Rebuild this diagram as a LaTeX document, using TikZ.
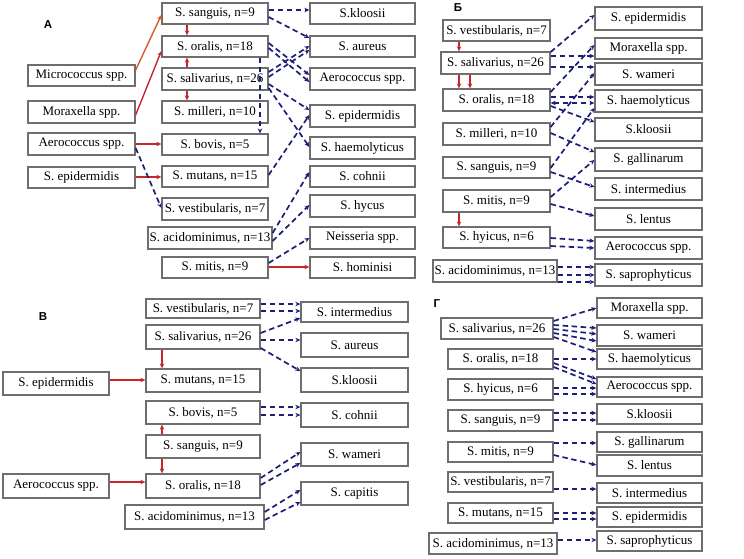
\documentclass[tikz,border=0pt]{standalone}
\usepackage{fontspec}
\setmainfont{Liberation Serif}
\newfontfamily\labfont{Liberation Sans}
\usetikzlibrary{arrows.meta}
\definecolor{boxgray}{RGB}{110,110,110}
\definecolor{navyl}{RGB}{30,30,120}
\definecolor{redl}{RGB}{196,40,45}
\definecolor{orangel}{RGB}{215,90,45}
\newcommand{\bx}[6]{\node[box, minimum width={#4-#2}, minimum height={#5-#3}] (#1) at ({(#2+#4)/2},{(#3+#5)/2}) {#6};}
\tikzset{
  box/.style={draw=boxgray, line width=1.3pt, fill=white, inner sep=0pt, font=\fontsize{13}{15}\selectfont},
  dsh/.style={draw=navyl, line width=1.7pt, dash pattern=on 5.5pt off 3.5pt, -{Stealth[length=5pt,width=4.5pt]}},
  redarr/.style={draw=redl, line width=1.4pt, -{Stealth[length=5pt,width=4.5pt]}},
  lab/.style={font=\labfont\bfseries\fontsize{11.5}{13}\selectfont, inner sep=0pt}
}
\begin{document}
\begin{tikzpicture}[x=1pt,y=-1pt]
\useasboundingbox[fill=white] (0,0) rectangle (744,558);
% ---------- Panel A ----------
\node[lab] (labA) at (48,25) {А};
\bx{aMic}{28}{65}{135}{86}{Micrococcus spp.}
\bx{aMor}{28}{101}{135}{123}{Moraxella spp.}
\bx{aAer}{28}{133}{135}{155}{Aerococcus spp.}
\bx{aEpi}{28}{167}{135}{188}{S. epidermidis}
\bx{aSan}{162}{3}{268}{24}{S. sanguis, n=9}
\bx{aOra}{162}{36}{268}{57}{S. oralis, n=18}
\bx{aSal}{162}{68}{268}{90}{S. salivarius, n=26}
\bx{aMil}{162}{101}{268}{123}{S. milleri, n=10}
\bx{aBov}{162}{134}{268}{155}{S. bovis, n=5}
\bx{aMut}{162}{166}{268}{187}{S. mutans, n=15}
\bx{aVes}{162}{198}{268}{220}{S. vestibularis, n=7}
\bx{aAci}{148}{227}{272}{249}{S. acidominimus, n=13}
\bx{aMit}{162}{257}{268}{278}{S. mitis, n=9}
\bx{aKlo}{310}{3}{415}{24}{S.kloosii}
\bx{aAur}{310}{36}{415}{57}{S. aureus}
\bx{aAerR}{310}{68}{415}{90}{Aerococcus spp.}
\bx{aEpiR}{310}{105}{415}{127}{S. epidermidis}
\bx{aHae}{310}{137}{415}{159}{S. haemolyticus}
\bx{aCoh}{310}{166}{415}{187}{S. cohnii}
\bx{aHyc}{310}{195}{415}{217}{S. hycus}
\bx{aNei}{310}{227}{415}{249}{Neisseria spp.}
\bx{aHom}{310}{257}{415}{278}{S. hominisi}
\draw[redarr, draw=orangel] (aMic.east |- 0,70) -- (aSan.west |- 0,15);
\draw[redarr] (aMor.east |- 0,115) -- (aOra.west |- 0,51);
\draw[redarr] (aAer.east |- 0,144) -- (aBov.west |- 0,144);
\draw[redarr] (aEpi.east |- 0,177) -- (aMut.west |- 0,177);
\draw[redarr] (aSan.south -| 187,0) -- (aOra.north -| 187,0);
\draw[redarr] (aSal.north -| 187,0) -- (aOra.south -| 187,0);
\draw[redarr] (aSal.south -| 187,0) -- (aMil.north -| 187,0);
\draw[redarr] (aMit.east |- 0,267) -- (aHom.west |- 0,267);
\draw[dsh] (aAer.east |- 0,148) -- (aVes.west |- 0,208);
\draw[dsh] (aOra.south -| 260,0) -- (aBov.north -| 260,0);
\draw[dsh] (aSan.east |- 0,10) -- (aKlo.west |- 0,10);
\draw[dsh] (aSan.east |- 0,17) -- (aAur.west |- 0,38);
\draw[dsh] (aOra.east |- 0,43) -- (aAerR.west |- 0,75);
\draw[dsh] (aOra.east |- 0,48) -- (aAerR.west |- 0,82);
\draw[dsh] (aSal.east |- 0,72) -- (aAur.west |- 0,46);
\draw[dsh] (aSal.east |- 0,77) -- (aAur.west |- 0,50);
\draw[dsh] (aSal.east |- 0,84) -- (aEpiR.west |- 0,110);
\draw[dsh] (aSal.east |- 0,88) -- (aHae.west |- 0,147);
\draw[dsh] (aMut.east |- 0,175) -- (aEpiR.west |- 0,115);
\draw[dsh] (aAci.east |- 0,233) -- (aCoh.west |- 0,172);
\draw[dsh] (aAci.east |- 0,241) -- (aHyc.west |- 0,205);
\draw[dsh] (aMit.east |- 0,263) -- (aNei.west |- 0,238);
% ---------- Panel B (Б) ----------
\node[lab] (labB) at (458,8) {Б};
\bx{bVes}{443}{20}{550}{41}{S. vestibularis, n=7}
\bx{bSal}{441}{52}{550}{74}{S. salivarius, n=26}
\bx{bOra}{443}{89}{550}{111}{S. oralis, n=18}
\bx{bMil}{443}{123}{550}{145}{S. milleri, n=10}
\bx{bSan}{443}{157}{550}{178}{S. sanguis, n=9}
\bx{bMit}{443}{190}{550}{212}{S. mitis, n=9}
\bx{bHyi}{443}{227}{550}{248}{S. hyicus, n=6}
\bx{bAci}{433}{260}{557}{282}{S. acidominimus, n=13}
\bx{bEpi}{595}{7}{702}{30}{S. epidermidis}
\bx{bMor}{595}{38}{702}{59}{Moraxella spp.}
\bx{bWam}{595}{63}{702}{85}{S. wameri}
\bx{bHae}{595}{90}{702}{112}{S. haemolyticus}
\bx{bKlo}{595}{118}{702}{141}{S.kloosii}
\bx{bGal}{595}{148}{702}{171}{S. gallinarum}
\bx{bInt}{595}{178}{702}{200}{S. intermedius}
\bx{bLen}{595}{208}{702}{230}{S. lentus}
\bx{bAer}{595}{237}{702}{259}{Aerococcus spp.}
\bx{bSap}{595}{264}{702}{286}{S. saprophyticus}
\draw[redarr] (bVes.south -| 459,0) -- (bSal.north -| 459,0);
\draw[redarr] (bSal.south -| 459,0) -- (bOra.north -| 459,0);
\draw[redarr] (bSal.south -| 470,0) -- (bOra.north -| 470,0);
\draw[redarr] (bMit.south -| 459,0) -- (bHyi.north -| 459,0);
\draw[dsh] (bSal.east |- 0,52) -- (bEpi.west |- 0,15);
\draw[dsh] (bSal.east |- 0,56) -- (bMor.west |- 0,56);
\draw[dsh] (bSal.east |- 0,67) -- (bWam.west |- 0,67);
\draw[dsh] (bOra.east |- 0,92) -- (bMor.west |- 0,45);
\draw[dsh] (bOra.east |- 0,97) -- (bHae.west |- 0,97);
\draw[dsh, {Stealth[length=5pt,width=4.5pt]}-{Stealth[length=5pt,width=4.5pt]}] (bOra.east |- 0,103) -- (bHae.west |- 0,103);
\draw[dsh] (bOra.east |- 0,106) -- (bKlo.west |- 0,122);
\draw[dsh] (bMil.east |- 0,127) -- (bWam.west |- 0,73);
\draw[dsh] (bMil.east |- 0,133) -- (bGal.west |- 0,152);
\draw[dsh] (bSan.east |- 0,168) -- (bHae.west |- 0,108);
\draw[dsh] (bSan.east |- 0,172) -- (bInt.west |- 0,187);
\draw[dsh] (bMit.east |- 0,197) -- (bGal.west |- 0,160);
\draw[dsh] (bMit.east |- 0,204) -- (bLen.west |- 0,216);
\draw[dsh] (bHyi.east |- 0,238) -- (bAer.west |- 0,241);
\draw[dsh] (bHyi.east |- 0,246) -- (bAer.west |- 0,248);
\draw[dsh] (bAci.east |- 0,267) -- (bSap.west |- 0,267);
\draw[dsh] (bAci.east |- 0,275) -- (bSap.west |- 0,275);
\draw[dsh] (bAci.east |- 0,282) -- (bSap.west |- 0,282);
% ---------- Panel C (В) ----------
\node[lab] (labC) at (43,317) {В};
\bx{cVes}{146}{299}{260}{318}{S. vestibularis, n=7}
\bx{cSal}{146}{325}{260}{349}{S. salivarius, n=26}
\bx{cMut}{146}{369}{260}{392}{S. mutans, n=15}
\bx{cBov}{146}{401}{260}{424}{S. bovis, n=5}
\bx{cSan}{146}{435}{260}{458}{S. sanguis, n=9}
\bx{cOra}{146}{474}{260}{498}{S. oralis, n=18}
\bx{cAci}{125}{505}{264}{529}{S. acidominimus, n=13}
\bx{cEpi}{3}{372}{109}{395}{S. epidermidis}
\bx{cAer}{3}{474}{109}{498}{Aerococcus spp.}
\bx{cInt}{301}{302}{408}{322}{S. intermedius}
\bx{cAur}{301}{333}{408}{357}{S. aureus}
\bx{cKlo}{301}{368}{408}{392}{S.kloosii}
\bx{cCoh}{301}{403}{408}{427}{S. cohnii}
\bx{cWam}{301}{443}{408}{466}{S. wameri}
\bx{cCap}{301}{482}{408}{505}{S. capitis}
\draw[redarr] (cSal.south -| 162,0) -- (cMut.north -| 162,0);
\draw[redarr] (cEpi.east |- 0,380) -- (cMut.west |- 0,380);
\draw[redarr] (cSan.north -| 162,0) -- (cBov.south -| 162,0);
\draw[redarr] (cSan.south -| 162,0) -- (cOra.north -| 162,0);
\draw[redarr] (cAer.east |- 0,482) -- (cOra.west |- 0,482);
\draw[dsh] (cVes.east |- 0,304) -- (cInt.west |- 0,304);
\draw[dsh] (cVes.east |- 0,311) -- (cInt.west |- 0,311);
\draw[dsh] (cSal.east |- 0,333) -- (cInt.west |- 0,318);
\draw[dsh] (cSal.east |- 0,340) -- (cAur.west |- 0,340);
\draw[dsh] (cSal.east |- 0,348) -- (cKlo.west |- 0,371);
\draw[dsh] (cBov.east |- 0,407) -- (cCoh.west |- 0,407);
\draw[dsh] (cBov.east |- 0,415) -- (cCoh.west |- 0,415);
\draw[dsh] (cOra.east |- 0,478) -- (cWam.west |- 0,452);
\draw[dsh] (cOra.east |- 0,485) -- (cWam.west |- 0,463);
\draw[dsh] (cAci.east |- 0,512) -- (cCap.west |- 0,490);
\draw[dsh] (cAci.east |- 0,520) -- (cCap.west |- 0,502);
% ---------- Panel D (Г) ----------
\node[lab] (labD) at (437,304) {Г};
\bx{dSal}{441}{318}{553}{339}{S. salivarius, n=26}
\bx{dOra}{448}{349}{553}{369}{S. oralis, n=18}
\bx{dHyi}{448}{379}{553}{400}{S. hyicus, n=6}
\bx{dSan}{448}{410}{553}{431}{S. sanguis, n=9}
\bx{dMit}{448}{442}{553}{462}{S. mitis, n=9}
\bx{dVes}{448}{472}{553}{492}{S. vestibularis, n=7}
\bx{dMut}{448}{503}{553}{523}{S. mutans, n=15}
\bx{dAci}{429}{533}{557}{554}{S. acidominimus, n=13}
\bx{dMor}{597}{298}{702}{318}{Moraxella spp.}
\bx{dWam}{597}{325}{702}{346}{S. wameri}
\bx{dHae}{597}{349}{702}{369}{S. haemolyticus}
\bx{dAer}{597}{377}{702}{397}{Aerococcus spp.}
\bx{dKlo}{597}{404}{702}{424}{S.kloosii}
\bx{dGal}{597}{432}{702}{452}{S. gallinarum}
\bx{dLen}{597}{455}{702}{476}{S. lentus}
\bx{dInt}{597}{483}{702}{503}{S. intermedius}
\bx{dEpi}{597}{507}{702}{527}{S. epidermidis}
\bx{dSap}{597}{531}{702}{551}{S. saprophyticus}
\draw[dsh] (dSal.east |- 0,321) -- (dMor.west |- 0,308);
\draw[dsh] (dSal.east |- 0,325) -- (dWam.west |- 0,328);
\draw[dsh] (dSal.east |- 0,329) -- (dWam.west |- 0,334);
\draw[dsh] (dSal.east |- 0,333) -- (dWam.west |- 0,341);
\draw[dsh] (dSal.east |- 0,337) -- (dHae.west |- 0,352);
\draw[dsh] (dOra.east |- 0,359) -- (dHae.west |- 0,359);
\draw[dsh] (dOra.east |- 0,363) -- (dAer.west |- 0,379);
\draw[dsh] (dOra.east |- 0,367) -- (dAer.west |- 0,384);
\draw[dsh] (dHyi.east |- 0,388) -- (dAer.west |- 0,388);
\draw[dsh] (dHyi.east |- 0,394) -- (dAer.west |- 0,394);
\draw[dsh] (dSan.east |- 0,413) -- (dKlo.west |- 0,413);
\draw[dsh] (dSan.east |- 0,420) -- (dKlo.west |- 0,420);
\draw[dsh] (dMit.east |- 0,443) -- (dGal.west |- 0,443);
\draw[dsh] (dMit.east |- 0,455) -- (dLen.west |- 0,465);
\draw[dsh] (dVes.east |- 0,489) -- (dInt.west |- 0,489);
\draw[dsh] (dMut.east |- 0,513) -- (dEpi.west |- 0,513);
\draw[dsh] (dMut.east |- 0,519) -- (dEpi.west |- 0,519);
\draw[dsh] (dAci.east |- 0,540) -- (dSap.west |- 0,540);
\end{tikzpicture}
\end{document}
